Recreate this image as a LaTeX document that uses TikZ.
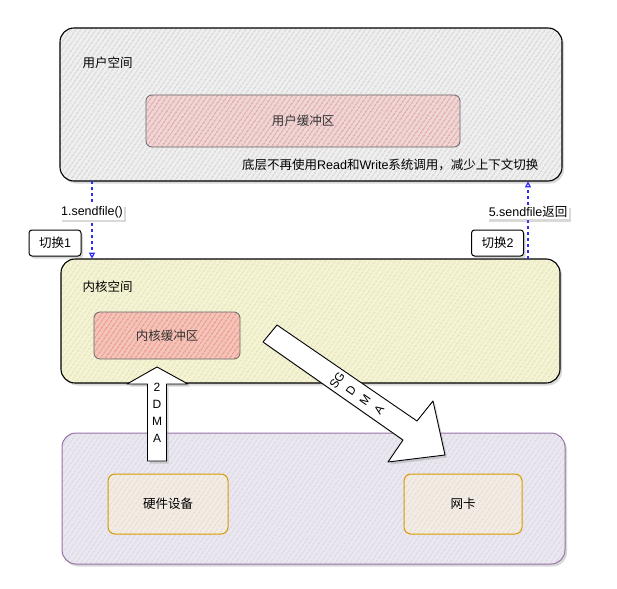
\documentclass[tikz,border=0pt]{standalone}
\usepackage{fontspec}
\setmainfont{Liberation Sans}
\newfontfamily\cjk{Noto Sans CJK SC}
\usetikzlibrary{patterns.meta,shadows,arrows.meta}
\definecolor{userfill}{HTML}{EFEFEF}
\definecolor{userline}{HTML}{B8B8B8}
\definecolor{ubuffill}{HTML}{EFD6D6}
\definecolor{ubufline}{HTML}{D46A6A}
\definecolor{kfill}{HTML}{F7F6D6}
\definecolor{kline}{HTML}{C8C8C2}
\definecolor{kline2}{HTML}{EDEC9A}
\definecolor{kbuffill}{HTML}{F2C4BA}
\definecolor{kbufline}{HTML}{EE5E4A}
\definecolor{hwfill}{HTML}{EAE7F0}
\definecolor{hwhatch}{HTML}{C9C6D4}
\definecolor{hwline}{HTML}{9673A6}
\definecolor{devfill}{HTML}{F3ECE4}
\definecolor{devhatch}{HTML}{D9CEC2}
\definecolor{devline}{HTML}{D79B00}
\definecolor{callblue}{HTML}{2B2BFF}
\begin{document}
\begin{tikzpicture}[x=1pt,y=-1pt,font=\fontsize{12.5}{15}\selectfont,
	shade/.style={drop shadow={shadow xshift=2pt,shadow yshift=-2.5pt,opacity=0.3,fill=black!50}},
	hatch/.style 2 args={preaction={fill=#1},pattern={Lines[angle=55,distance=4pt,line width=0.75pt]},pattern color=#2},
	space/.style={shade,draw=black,line width=1.1pt,rounded corners=14pt,inner sep=0pt},
	buf/.style={draw=gray!80!black,line width=0.8pt,rounded corners=6pt,inner sep=0pt,text=black!80},
	dev/.style={draw=devline,line width=1pt,rounded corners=7pt,inner sep=0pt,hatch={devfill}{devhatch}},
	switch/.style={shade,draw=black,fill=white,line width=1pt,rounded corners=3pt,minimum width=52pt,minimum height=26pt,inner sep=0pt},
	call/.style={draw=callblue,line width=1.2pt,dash pattern=on 3pt off 3pt,-{Triangle[open,length=6pt,width=6pt]}},
	lbl/.style={shade,fill=white,inner sep=1.5pt},
	big/.style={shade,draw=black,fill=white,line width=0.9pt,line join=round}]
	\useasboundingbox (0,0) rectangle (617,588);
	%用户空间
	\node [space,hatch={userfill}{userline},minimum width=502pt,minimum height=153pt] (user) at (311,104.5) {};
	\node [anchor=west] (usertitle) at (79,63) {\cjk 用户空间};
	\node [buf,hatch={ubuffill}{ubufline},minimum width=314pt,minimum height=52pt] (ubuf) at (303,121) {\cjk 用户缓冲区};
	\node [anchor=east] (note) at (542,165) {{\cjk 底层不再使用}Read{\cjk 和}Write{\cjk 系统调用，减少上下文切换}};
	%内核空间
	\node [space,preaction={fill=kfill},
		preaction={pattern={Lines[angle=55,distance=4pt,line width=0.9pt,xshift=2pt]},pattern color=kline2},
		pattern={Lines[angle=55,distance=4pt,line width=0.6pt]},pattern color=kline,
		minimum width=499pt,minimum height=124pt] (kernel) at (310.5,321) {};
	\node [anchor=west] (kerneltitle) at (79,287) {\cjk 内核空间};
	\node [buf,hatch={kbuffill}{kbufline},minimum width=146pt,minimum height=47pt] (kbuf) at (167,335.5) {\cjk 内核缓冲区};
	%切换
	\node [switch] (sw1) at (55,243) {{\cjk 切换}1};
	\node [switch] (sw2) at (497.5,243) {{\cjk 切换}2};
	%系统调用
	\coordinate (c1) at (92,0);
	\coordinate (c2) at (528,0);
	\draw [call] (user.south -| c1) -- node [lbl,pos=0.4] (send) {1.sendfile()} (kernel.north -| c1);
	\draw [call] (kernel.north -| c2) -- node [lbl,pos=0.6] (back) {5.sendfile{\cjk 返回}} (user.south -| c2);
	%硬件
	\node [shade,draw=hwline,line width=1pt,rounded corners=14pt,inner sep=0pt,hatch={hwfill}{hwhatch},
		minimum width=503pt,minimum height=131pt] (hw) at (313.5,498.5) {};
	\node [dev,minimum width=120pt,minimum height=60pt] (disk) at (168,504) {\cjk 硬件设备};
	\node [dev,minimum width=118pt,minimum height=60pt] (nic) at (463,504) {\cjk 网卡};
	%DMA拷贝
	\draw [big] (147.5,461) -- (147.5,384) -- (127,384) -- (157,367) -- (188,384) -- (166.5,384) -- (166.5,461) -- cycle;
	\node [align=center,font=\fontsize{12}{17}\selectfont] (dma) at (157,413) {2\\D\\M\\A};
	\draw [big] (263,342) -- (277,325) -- (417,421) -- (433,401) -- (445,455) -- (388,462) -- (403,440) -- cycle;
	\node [rotate=55,align=center,font=\fontsize{12}{17}\selectfont] (sgdma) at (358,395) {SG\\D\\M\\A};
\end{tikzpicture}
\end{document}
